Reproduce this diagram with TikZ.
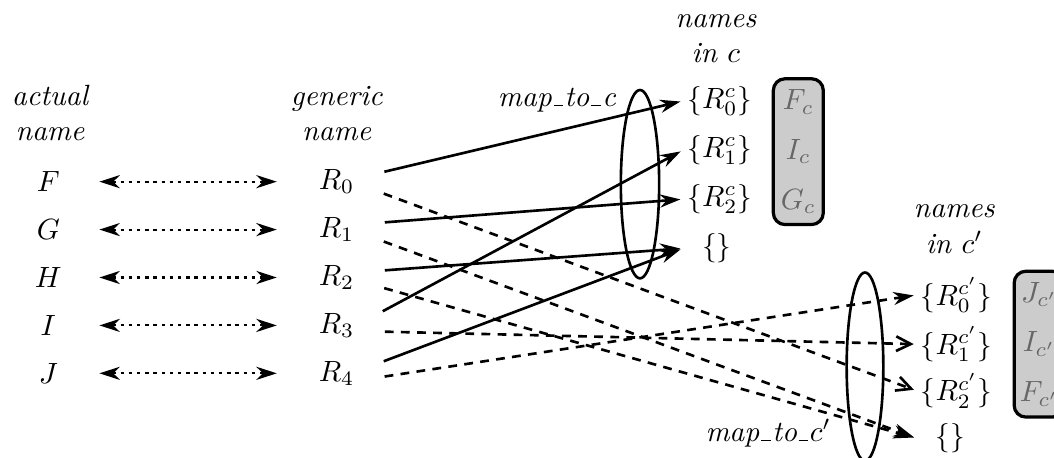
\documentclass[tikz,border=0pt]{standalone}
\usepackage{amsmath,amssymb}
\usepackage{tikz}
\usetikzlibrary{arrows.meta}

\newcommand{\usc}{\kern0.06em\rule{0.32em}{0.5pt}\kern0.06em}

\begin{document}
\begin{tikzpicture}[
    >={Stealth[length=7pt,width=4.5pt]},
    line width=0.9pt,
    entity/.style={minimum width=20pt, inner sep=2pt},
    title/.style={align=center, font=\itshape, inner sep=1pt},
    dest/.style={anchor=west, inner sep=1pt},
    nil/.style={anchor=west, inner xsep=6pt, inner ysep=1pt},
    twin/.style={<->, line width=0.7pt, dash pattern=on 1.2pt off 1.6pt, shorten <=7pt, shorten >=10pt},
    solidmap/.style={->, shorten <=6pt, shorten >=1pt},
    dashmap/.style={solidmap, dash pattern=on 3pt off 2.5pt},
    barb/.style={-{Straight Barb[length=5pt,width=5pt]}},
    bag/.style={draw, line width=1.1pt, rounded corners=4pt, fill=gray!40, minimum width=0.6cm, minimum height=1.75cm, align=center, inner sep=1pt, text=black!60}
]
    \useasboundingbox (0,0) rectangle (12.648,-5.496);

    % column heads
    \node[title] (actual) at (0.60,-1.36) {actual\\name};
    \node[title] (generic) at (4.04,-1.36) {generic\\name};
    \node[title] (inc) at (8.59,-0.46) {names\\in $c$};
    \node[title] (incc) at (11.45,-2.75) {names\\in $c'$};

    % actual names
    \node[entity] (F) at (0.58,-2.18) {$F$};
    \node[entity] (G) at (0.58,-2.755) {$G$};
    \node[entity] (H) at (0.58,-3.33) {$H$};
    \node[entity] (I) at (0.58,-3.905) {$I$};
    \node[entity] (J) at (0.58,-4.48) {$J$};

    % generic names
    \node[entity] (R0) at (4.04,-2.18) {$R_0$};
    \node[entity] (R1) at (4.04,-2.755) {$R_1$};
    \node[entity] (R2) at (4.04,-3.33) {$R_2$};
    \node[entity] (R3) at (4.04,-3.905) {$R_3$};
    \node[entity] (R4) at (4.04,-4.48) {$R_4$};

    % names in c
    \node[dest] (c0) at (8.20,-1.21) {$\{R_0^c\}$};
    \node[dest] (c1) at (8.20,-1.80) {$\{R_1^c\}$};
    \node[dest] (c2) at (8.20,-2.39) {$\{R_2^c\}$};
    \node[nil] (c3) at (8.20,-2.98) {$\{\}$};

    % names in c'
    \node[dest] (d0) at (11.00,-3.54) {$\{R_0^{c'}\}$};
    \node[dest] (d1) at (11.00,-4.13) {$\{R_1^{c'}\}$};
    \node[dest] (d2) at (11.00,-4.69) {$\{R_2^{c'}\}$};
    \node[nil] (d3) at (11.00,-5.26) {$\{\}$};

    % the two maps
    \draw (7.68,-2.21) ellipse [x radius=0.23cm, y radius=1.13cm];
    \draw (10.38,-4.40) ellipse [x radius=0.22cm, y radius=1.13cm];
    \node[title, anchor=east] (mapc) at (7.44,-1.20) {map\usc to\usc c};
    \node[title, anchor=east] (mapcc) at (10.02,-5.20) {map\usc to\usc$c'$};

    % shaded sets
    \node[bag] (bagc) at (9.58,-1.82) {$F_c$\\[5pt]$I_c$\\[5pt]$G_c$};
    \node[bag] (bagcc) at (12.47,-4.13) {$J_{c'}$\\[5pt]$I_{c'}$\\[5pt]$F_{c'}$};

    \draw[twin] (F) -- (R0);
    \draw[twin] (G) -- (R1);
    \draw[twin] (H) -- (R2);
    \draw[twin] (I) -- (R3);
    \draw[twin] (J) -- (R4);

    \draw[solidmap] ([yshift=2pt]R0.east) -- (c0.west);
    \draw[solidmap] ([yshift=2pt]R1.east) -- (c2.west);
    \draw[solidmap] ([yshift=2pt]R2.east) -- (c3.west);
    \draw[solidmap] ([yshift=2pt]R3.east) -- (c1.west);
    \draw[solidmap] ([yshift=2pt]R4.east) -- (c3.west);

    \draw[dashmap, barb] ([yshift=-2pt]R0.east) -- (d2.west);
    \draw[dashmap] ([yshift=-2pt]R1.east) -- (d3.west);
    \draw[dashmap] ([yshift=-2pt]R2.east) -- (d3.west);
    \draw[dashmap, barb] ([yshift=-2pt]R3.east) -- (d1.west);
    \draw[dashmap] ([yshift=-2pt]R4.east) -- (d0.west);
\end{tikzpicture}
\end{document}
